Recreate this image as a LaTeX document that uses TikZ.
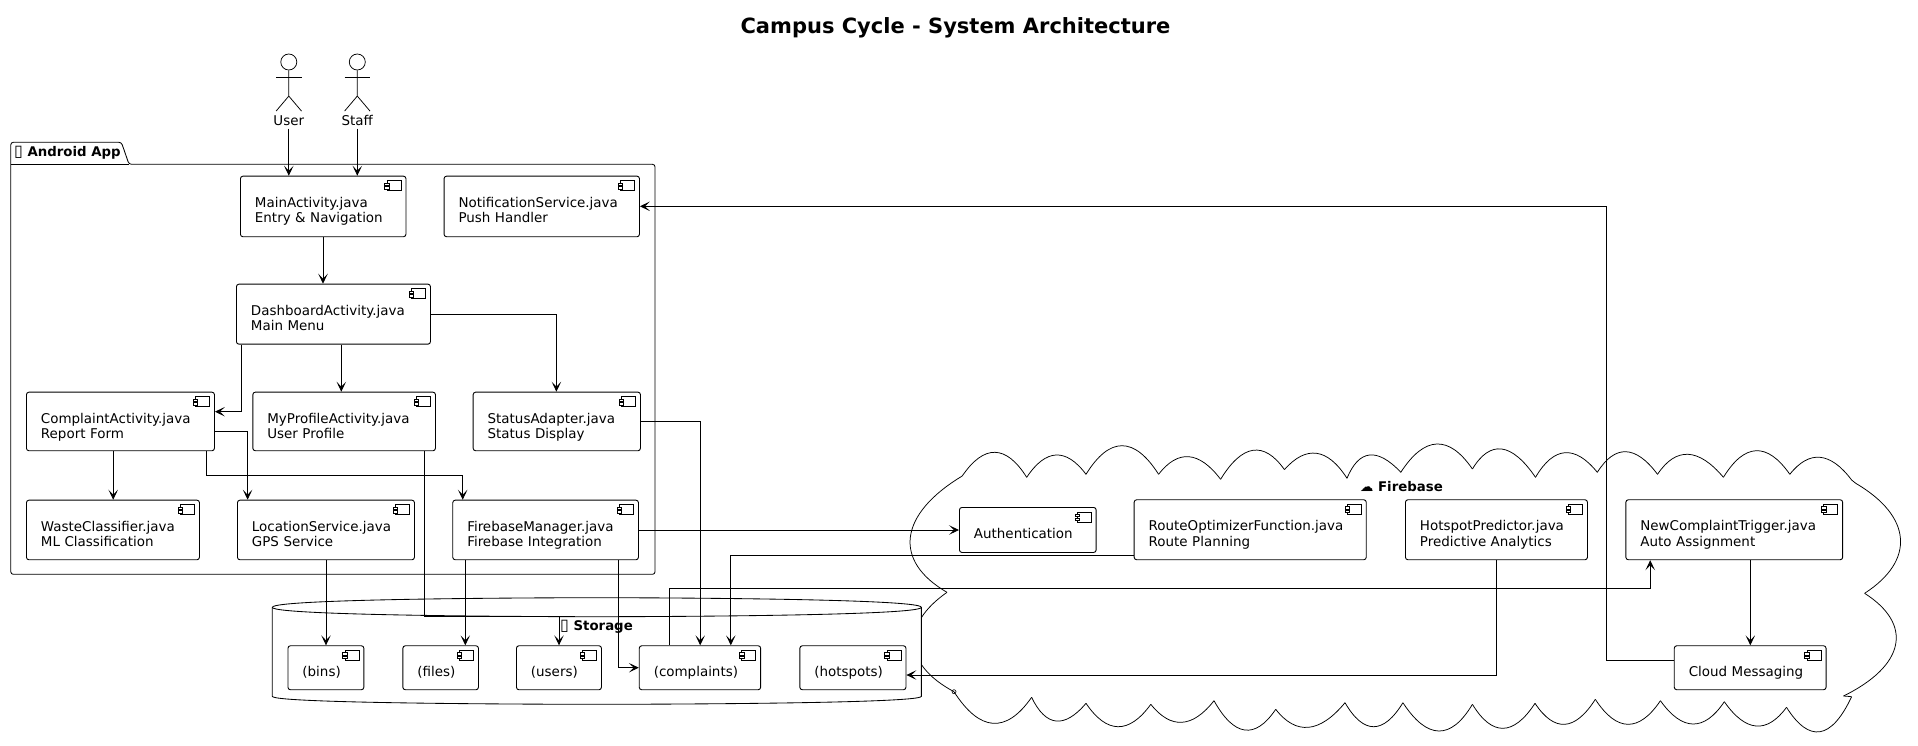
\documentclass[tikz,border=0pt]{standalone}
\usepackage{fontspec}
\setmainfont{DejaVu Sans}
\usetikzlibrary{arrows.meta,calc}
\newcommand{\compfont}{\fontsize{13.45}{15.6}\selectfont}
\newcommand{\tofu}{{\fontsize{16}{16}\selectfont ▯}}
\tikzset{
	comp/.style 2 args={draw,fill=white,rounded corners=2.5pt,line width=.9pt,anchor=north west,inner xsep=14.5pt,inner ysep=0pt,
		text width=(#1-29)*1pt,text height=31pt,text depth=(#2-31)*1pt,align=left,font=\compfont,
		path picture={
			\draw[sharp corners,line width=.8pt] ([shift={(-18.8,4.7)}]path picture bounding box.north east) rectangle +(14,10);
			\draw[sharp corners,line width=.8pt,fill=white] ([shift={(-21.2,6.8)}]path picture bounding box.north east) rectangle +(4.6,2.5);
			\draw[sharp corners,line width=.8pt,fill=white] ([shift={(-21.2,10.6)}]path picture bounding box.north east) rectangle +(4.6,2.5);
		}},
	arr/.style={-{Stealth[length=10pt,width=9.5pt,inset=5pt]},line width=.85pt},
	grp/.style={line width=.85pt,fill=white},
	grplabel/.style={font=\fontsize{13.3}{16}\selectfont\bfseries,inner sep=0pt}
}
\begin{document}
\begin{tikzpicture}[x=1pt,y=-1pt]
	\useasboundingbox (0,0) rectangle (1918,745);
	\node [font=\fontsize{21}{24}\selectfont\bfseries] (title) at (955.5,28) {Campus Cycle - System Architecture};

	% actors
	\foreach \actor/\ax/\txt in {user/288.8/User,staff/357.3/Staff} {
		\node [circle,draw,line width=.75pt,minimum size=16pt,inner sep=0pt] (\actor head) at (\ax,62) {};
		\node [font=\compfont,inner sep=0pt,text height=10pt,text depth=3pt] (\actor) at (\ax,122) {\txt};
		\draw [line width=.75pt] (\actor head.south) -- ++(0,25.7) -- ++(-12.7,15);
		\draw [line width=.75pt] (\actor head.south) ++(0,25.7) -- ++(12.7,15);
		\draw [line width=.75pt] (\ax-12.7,77.7) -- (\ax+12.7,77.7);
	}

	% firebase cloud
	\foreach \px/\py/\bx/\by/\sp [remember=\bx as \ax (initially 962.2),remember=\by as \ay (initially 476)] in {
		994.9/452.3/1026.7/477.3/.17,1056/455/1086/474.3/.17,1122/445.7/1158.6/474.3/.17,1188.8/456.7/1220.6/479.3/.17,
		1252.9/450.3/1284.4/469.6/.17,1316.6/453.3/1347/478.3/.17,1369.5/455/1400.8/472.3/.17,1436.6/444/1472.4/469/.17,
		1501.7/449/1535.5/477.3/.17,1564.8/452.7/1597.3/472.3/.17,1625.8/451.7/1657.5/474.3/.17,1688/454.3/1723.4/477.3/.17,
		1756/450.7/1789.8/474.3/.17,1820/457.3/1851.6/480/.17,1853.7/481.6/1855.7/483.3/.17,
		1900.4/538.3/1864.6/593.3/.2,1895.5/645/1843.5/696/.2,1847.5/696.3/1851.6/696.7/.17,
		1820/731.7/1786.5/707.3/.17,1756/726/1724.3/701.7/.17,1693/724/1660.4/700.7/.17,1627.8/724.3/1595.3/699.3/.17,
		1564.8/724.3/1535/703.3/.17,1503/728.3/1472.4/704.3/.17,1438.7/731/1402.9/702.7/.17,1373.6/726.7/1345/702.7/.17,
		1308.5/727.3/1275.7/709.3/.17,1244.7/730/1214/700.7/.17,1181.8/722.3/1150.8/704.3/.17,1118/726.7/1086/703.3/.17,
		1056/721/1031.6/697.3/.17,992.9/723.3/954/691.7/.17,914/644/947/592.3/.2,910.4/536.7/962.2/476/.2} {
		\draw [line width=.75pt]
			(\ax,\ay) .. controls ({\px+(\px-(\ax+\bx)/2)/3+(\ax-\bx)*\sp},{\py+(\py-(\ay+\by)/2)/3+(\ay-\by)*\sp})
			and ({\px+(\px-(\ax+\bx)/2)/3+(\bx-\ax)*\sp},{\py+(\py-(\ay+\by)/2)/3+(\by-\ay)*\sp}) .. (\bx,\by);
	}
	\node [circle,draw,line width=.6pt,inner sep=0pt,minimum size=4pt] (cloudknot) at (954,691.7) {};
	\node [grplabel,anchor=west] (firebaselabel) at (1360,487) {☁ Firebase};

	% storage database
	\draw [grp] (272.3,607.3) .. controls (272.3,597.7) and (596.8,597.7) .. (596.8,597.7) .. controls (596.8,597.7) and (921.4,597.7) .. (921.4,607.3)
		-- (921.4,696.3) .. controls (921.4,704.3) and (596.8,704.3) .. (596.8,704.3) .. controls (596.8,704.3) and (272.3,704.3) .. (272.3,696.3) -- cycle;
	\draw [line width=.85pt] (272.3,607.3) .. controls (272.3,616.7) and (596.8,616.7) .. (596.8,616.7) .. controls (596.8,616.7) and (921.4,616.7) .. (921.4,607.3);
	\node [grplabel,anchor=west] (storagelabel) at (560,626.3) {\tofu{} Storage};

	% android package
	\draw [grp,rounded corners=2.5pt] (10.8,574.3) -- (10.8,142.3) -- (121.4,142.3) -- (129,164.3) -- (655,164.3) -- (655,574.3) -- cycle;
	\draw [line width=.85pt] (10.8,164.3) -- (129,164.3);
	\node [grplabel,anchor=west] (androidlabel) at (14,153) {\tofu{} Android App};

	\node [comp={165.5}{60.6}] (main) at (240,175.7) {MainActivity.java\\Entry \& Navigation};
	\node [comp={195.4}{60.6}] (notif) at (443.6,175.7) {NotificationService.java\\Push Handler};
	\node [comp={194}{60}] (dash) at (236,283.7) {DashboardActivity.java\\Main Menu};
	\node [comp={188}{58.6}] (complaint) at (26,391.7) {ComplaintActivity.java\\Report Form};
	\node [comp={182.6}{58.6}] (profile) at (252.4,391.7) {MyProfileActivity.java\\User Profile};
	\node [comp={167.3}{58.6}] (status) at (472.7,391.7) {StatusAdapter.java\\Status Display};
	\node [comp={173}{59.6}] (waste) at (26,499.7) {WasteClassifier.java\\ML Classification};
	\node [comp={177}{59.6}] (location) at (237,499.7) {LocationService.java\\GPS Service};
	\node [comp={185.7}{59.6}] (manager) at (452.3,499.7) {FirebaseManager.java\\Firebase Integration};

	\node [comp={75.9}{44}] (bins) at (287.5,645.3) {(bins)};
	\node [comp={75.6}{44}] (files) at (402.4,645.3) {(files)};
	\node [comp={85}{44}] (users) at (516,645.3) {(users)};
	\node [comp={121.4}{44}] (complaints) at (638.8,645.3) {(complaints)};
	\node [comp={106.1}{44}] (hotspots) at (799.4,645.3) {(hotspots)};

	\node [comp={136.7}{45}] (auth) at (959,507) {Authentication};
	\node [comp={232.1}{60}] (route) at (1133.7,499.3) {RouteOptimizerFunction.java\\Route Planning};
	\node [comp={182}{60}] (predictor) at (1405,499.3) {HotspotPredictor.java\\Predictive Analytics};
	\node [comp={216.8}{60}] (trigger) at (1625.4,499.3) {NewComplaintTrigger.java\\Auto Assignment};
	\node [comp={151.8}{44}] (messaging) at (1673.8,645.3) {Cloud Messaging};

	% connectors
	\draw [arr] (user.south) -- (user.south |- main.north);
	\draw [arr] (staff.south) -- (staff.south |- main.north);
	\draw [arr] (main.south -| 323,0) -- (323,0 |- dash.north);
	\draw [arr] (dash.east |- 0,314.3) -| (556.4,0 |- status.north);
	\draw [arr] (dash.south -| 241.5,0) |- (complaint.east |- 0,411.7);
	\draw [arr] (dash.south -| 341.3,0) -- (341.3,0 |- profile.north);
	\draw [arr] (complaint.east |- 0,431.3) -| (247.6,0 |- location.north);
	\draw [arr] (complaint.south -| 206.9,0) -- (206.9,475.7) -| (462.7,0 |- manager.north);
	\draw [arr] (complaint.south -| 113.2,0) -- (113.2,0 |- waste.north);
	\draw [arr] (profile.south -| 424,0) -- (424,616.3) -| (559,0 |- users.north);
	\draw [arr] (status.east |- 0,421) -| (700.2,0 |- complaints.north);
	\draw [arr] (manager.east |- 0,530) -- (auth.west |- 0,530);
	\draw [arr] (manager.south -| 465.3,0) -- (465.3,0 |- files.north);
	\draw [arr] (manager.south -| 618.8,0) |- (complaints.west |- 0,667.7);
	\draw [arr] (location.south -| 326,0) -- (326,0 |- bins.north);
	\draw [arr] (route.west |- 0,555.3) -| (730.8,0 |- complaints.north);
	\draw [arr] (complaints.north -| 669.6,0) -- (669.6,588) -| (1650.2,0 |- trigger.south);
	\draw [arr] (predictor.south -| 1496.4,0) |- (hotspots.east |- 0,675);
	\draw [arr] (trigger.south -| 1750.3,0) -- (1750.3,0 |- messaging.north);
	\draw [arr] (messaging.west |- 0,660.3) -| (1606.3,206.3) -- (notif.east |- 0,206.3);
\end{tikzpicture}
\end{document}
